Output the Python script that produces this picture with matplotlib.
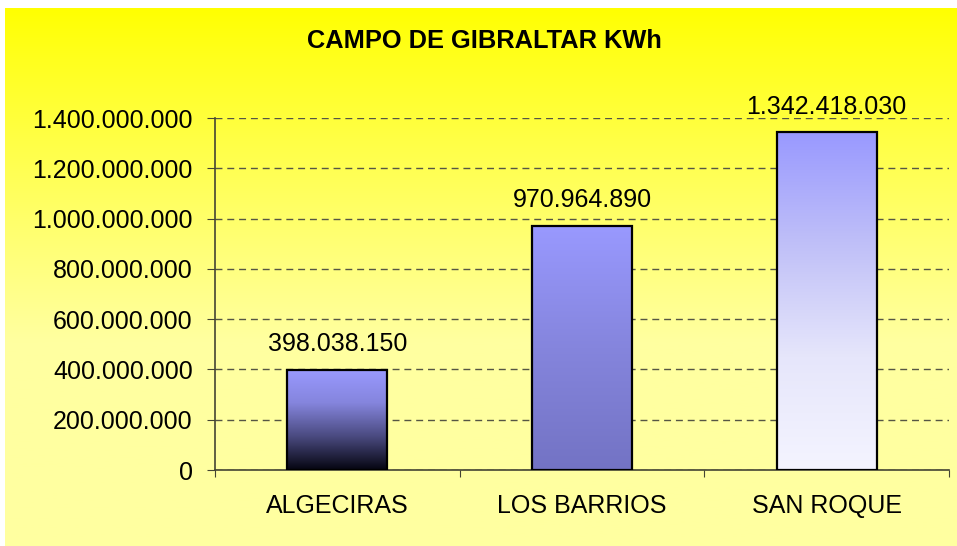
import numpy as np
import matplotlib.pyplot as plt
from matplotlib.ticker import FuncFormatter
from matplotlib.colors import LinearSegmentedColormap

plt.rcParams['font.family'] = ['Liberation Sans', 'DejaVu Sans']

towns = ['ALGECIRAS', 'LOS BARRIOS', 'SAN ROQUE']
kwh = [398038150, 970964890, 1342418030]
labels = ['398.038.150', '970.964.890', '1.342.418.030']

# gradient colours per bar: (bottom, top)
bar_grads = [
    ['#050510', '#4a4a80', '#8585dd', '#9999ff'],
    ['#7373c4', '#8585dd', '#9999ff'],
    ['#f4f4ff', '#e6e6fb', '#c0c0f8', '#9999ff'],
]


def thousands(v, pos):
    return '{:,.0f}'.format(v).replace(',', '.')


fig = plt.figure(figsize=(9.57, 5.46), dpi=100)

# yellow gradient background
bg = fig.add_axes([5 / 957, 0, 952 / 957, 538 / 546])
t = np.linspace(0, 1, 300)
blue = np.clip(t / 0.62, 0, 1) ** 0.9 * 160
grad = np.zeros((300, 1, 3))
grad[:, 0, 0] = 1.0
grad[:, 0, 1] = 1.0
grad[:, 0, 2] = blue / 255
bg.imshow(grad, aspect='auto', extent=[0, 1, 0, 1], origin='upper')
bg.axis('off')

ax = fig.add_axes([215 / 957, 1 - 470 / 546, (949 - 215) / 957, (470 - 118) / 546])
ax.patch.set_alpha(0)

x = np.arange(len(towns))
bars = ax.bar(x, kwh, width=0.41, facecolor='none', edgecolor='black', linewidth=1.6, zorder=3)
for b, cols in zip(bars, bar_grads):
    cmap = LinearSegmentedColormap.from_list('g', cols)
    g = np.linspace(0, 1, 256).reshape(-1, 1)
    im = ax.imshow(g, cmap=cmap, aspect='auto', origin='lower', zorder=2,
                   extent=[b.get_x(), b.get_x() + b.get_width(), 0, b.get_height()])
    im.set_clip_path(b)

for xi, v, lab in zip(x, kwh, labels):
    ax.annotate(lab, (xi, v), xytext=(0, 13.5), textcoords='offset points',
                ha='center', va='baseline', fontsize=18)

ax.set_xlim(-0.5, 2.5)
ax.set_ylim(0, 1.4e9)
ax.set_yticks(np.arange(0, 1.41e9, 2e8))
ax.yaxis.set_major_formatter(FuncFormatter(thousands))
ax.yaxis.grid(True, linestyle=(0, (5, 3.5)), color='#555544', linewidth=1, zorder=1)
ax.set_axisbelow(True)

ax.set_xticks([-0.5, 0.5, 1.5, 2.5])
ax.set_xticklabels([])
ax.set_xticks(x, minor=True)
ax.set_xticklabels(towns, minor=True, fontsize=18)
ax.tick_params(axis='x', which='minor', length=0, pad=17)
ax.tick_params(axis='x', which='major', length=5, color='#444433', direction='out')
ax.tick_params(axis='y', labelsize=18, length=6, pad=10, color='#444433', direction='out')

for s in ['top', 'right']:
    ax.spines[s].set_visible(False)
for s in ['left', 'bottom']:
    ax.spines[s].set_color('#444433')
    ax.spines[s].set_linewidth(1.2)

fig.text(484 / 957, 1 - 41 / 546, 'CAMPO DE GIBRALTAR KWh', ha='center', va='center',
         fontsize=18.3, fontweight='bold')

fig.savefig('out.png', dpi=100)
